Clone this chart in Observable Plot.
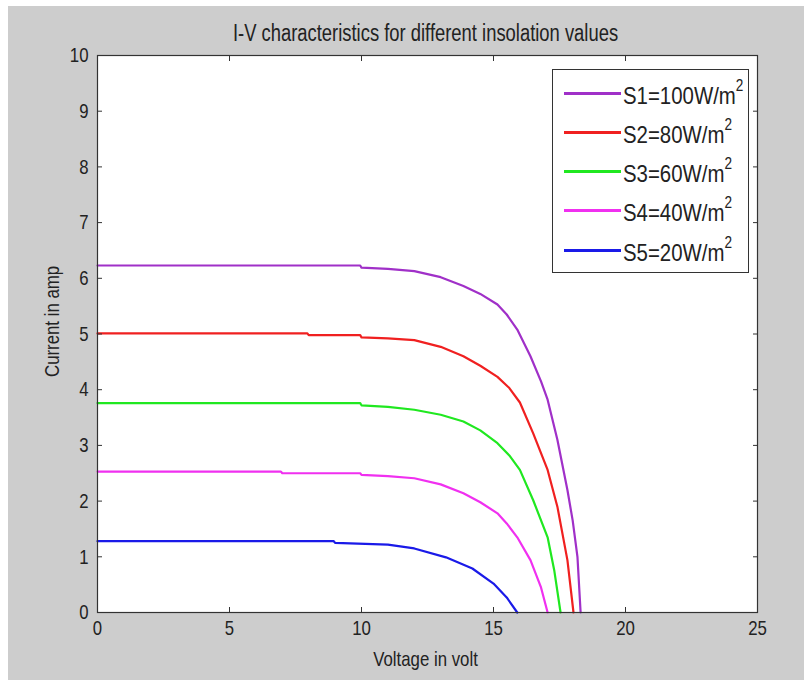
<!DOCTYPE html>
<html><head><meta charset="utf-8">
<script src="https://cdn.jsdelivr.net/npm/d3@7"></script>
<script src="https://cdn.jsdelivr.net/npm/@observablehq/plot@0.6"></script>
<style>
body{margin:0;background:#fff;width:804px;height:680px;position:relative;overflow:hidden;font-family:"Liberation Sans",Arial,sans-serif;}
#bg{position:absolute;left:8px;top:6px;width:796px;height:674px;background:#cdcdcd;}
#chart{position:absolute;left:8px;top:6px;}
#legend{position:absolute;left:552px;top:69px;width:197px;height:204px;background:#fff;border:1px solid #333;box-sizing:border-box;}
.row{position:absolute;left:0;height:30px;width:100%;}
.sw{position:absolute;left:11px;width:57px;height:3px;top:14px;}
.lt{position:absolute;left:70px;top:3px;font-size:24px;color:#222;white-space:nowrap;line-height:30px;transform:scaleX(0.85);transform-origin:0 50%;}
.lt sup{font-size:16px;position:relative;top:-3px;vertical-align:top;line-height:16px;}
</style></head>
<body>
<div id="bg"></div>
<div id="chart"></div>
<div id="legend"></div>
<script>
const title = "I-V characteristics for different insolation values";
const xLabel = "Voltage in volt";
const yLabel = "Current in amp";
const xTicks = [0, 5, 10, 15, 20, 25];
const yTicks = [0, 1, 2, 3, 4, 5, 6, 7, 8, 9, 10];

const seriesLabels = ["S1=100W/m²", "S2=80W/m²", "S3=60W/m²", "S4=40W/m²", "S5=20W/m²"];
const seriesColors = ["#a030c8", "#f02020", "#20e820", "#f030f0", "#1a1ae8"];

// S1
const v1 = [0, 2, 4, 6, 8, 9.95, 10.0, 11, 12, 13, 13.86, 14.5, 15.15, 15.5, 15.9, 16.4, 16.8, 17.05, 17.42, 17.8, 18.0, 18.18, 18.3];
const i1 = [6.23, 6.23, 6.23, 6.23, 6.23, 6.23, 6.19, 6.17, 6.13, 6.02, 5.86, 5.72, 5.53, 5.35, 5.08, 4.6, 4.15, 3.82, 3.1, 2.2, 1.65, 1.0, 0];
// S2
const v2 = [0, 2, 4, 6, 7.95, 8.0, 9.95, 10.0, 11, 12, 13, 13.86, 14.5, 15.15, 15.6, 16.0, 16.5, 17.05, 17.42, 17.8, 18.03];
const i2 = [5.01, 5.01, 5.01, 5.01, 5.01, 4.98, 4.98, 4.94, 4.92, 4.89, 4.77, 4.6, 4.43, 4.23, 4.03, 3.77, 3.22, 2.56, 1.9, 0.94, 0];
// S3
const v3 = [0, 2, 4, 6, 8, 9.95, 10.0, 11, 12, 13, 13.86, 14.5, 15.15, 15.6, 16.0, 16.5, 17.05, 17.3, 17.54];
const i3 = [3.76, 3.76, 3.76, 3.76, 3.76, 3.76, 3.72, 3.69, 3.64, 3.55, 3.43, 3.27, 3.04, 2.82, 2.56, 2.02, 1.35, 0.76, 0];
// S4
const v4 = [0, 2, 4, 6.95, 7.0, 9.95, 10.0, 11, 12, 13, 13.86, 14.5, 15.15, 15.5, 15.9, 16.4, 16.8, 17.05];
const i4 = [2.53, 2.53, 2.53, 2.53, 2.5, 2.5, 2.47, 2.45, 2.41, 2.3, 2.14, 1.98, 1.78, 1.6, 1.35, 0.94, 0.45, 0];
// S5
const v5 = [0, 2, 4, 6, 8.95, 9.0, 11, 12, 13.2, 14.2, 15.0, 15.5, 15.9];
const i5 = [1.28, 1.28, 1.28, 1.28, 1.28, 1.25, 1.22, 1.15, 0.99, 0.79, 0.52, 0.27, 0];

const volts = [v1, v2, v3, v4, v5];
const amps = [i1, i2, i3, i4, i5];

const rows = [];
volts.forEach((vs, k) => vs.forEach((v, j) => rows.push({series: seriesLabels[k], V: v, I: amps[k][j]})));

const chart = Plot.plot({
  width: 796,
  height: 674,
  marginLeft: 89,
  marginRight: 47,
  marginTop: 49,
  marginBottom: 68,
  style: {background: "transparent", fontFamily: '"Liberation Sans",Arial,sans-serif', fontSize: "21px", color: "#222"},
  x: {domain: [0, 25]},
  y: {domain: [0, 10]},
  color: {domain: seriesLabels, range: seriesColors},
  marks: [
    Plot.frame({fill: "white", stroke: "none"}),
    Plot.line(rows, {x: "V", y: "I", z: "series", stroke: "series", strokeWidth: 2.2}),
    Plot.frame({stroke: "#333", strokeWidth: 1.2}),
    Plot.axisX({ticks: xTicks, tickSize: -5, tickPadding: 13, stroke: "#333", label: null, fontSize: 21}),
    Plot.axisX({anchor: "top", ticks: xTicks, tickSize: -5, tickFormat: () => "", label: null, stroke: "#333"}),
    Plot.axisY({ticks: yTicks, tickSize: -5, tickPadding: 14, stroke: "#333", label: null, fontSize: 21}),
    Plot.axisY({anchor: "right", ticks: yTicks, tickSize: -5, tickFormat: () => "", label: null, stroke: "#333"}),
    Plot.text([xLabel], {text: d => d, frameAnchor: "bottom", dy: 53, dx: -2, fontSize: 21, fill: "#222"}),
    Plot.text([yLabel], {text: d => d, frameAnchor: "left", dx: -45, dy: 43, rotate: -90, fontSize: 21, fill: "#222"}),
    Plot.text([title], {text: d => d, frameAnchor: "top", dy: -31, dx: -2, fontSize: 23, fill: "#222"})
  ]
});
document.getElementById("chart").appendChild(chart);

// condense all chart text horizontally (the reference font is a narrow face)
chart.querySelectorAll("text").forEach(el => {
  const targets = el.querySelectorAll("tspan").length ? el.querySelectorAll("tspan") : [el];
  targets.forEach(t => {
    const len = t.getComputedTextLength();
    if (len > 0) {
      t.setAttribute("textLength", (len * 0.8).toFixed(1));
      t.setAttribute("lengthAdjust", "spacingAndGlyphs");
    }
  });
});

const legend = document.getElementById("legend");
const rowTops = [8, 47, 86, 125, 165];
seriesLabels.forEach((s, k) => {
  const r = document.createElement("div");
  r.className = "row";
  r.style.top = rowTops[k] + "px";
  const sw = document.createElement("div");
  sw.className = "sw";
  sw.style.background = seriesColors[k];
  const t = document.createElement("div");
  t.className = "lt";
  t.innerHTML = s.replace("²", "<sup>2</sup>");
  r.appendChild(sw); r.appendChild(t);
  legend.appendChild(r);
});
</script>
</body></html>
